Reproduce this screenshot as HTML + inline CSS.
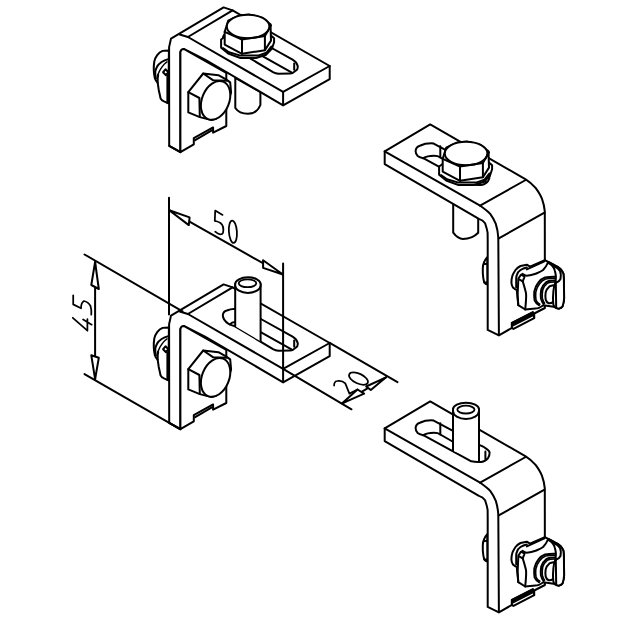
<!DOCTYPE html>
<html><head><meta charset="utf-8"><style>
html,body{margin:0;padding:0;background:#fff;width:638px;height:638px;overflow:hidden}
svg{display:block}
path,ellipse,polyline{fill:none;stroke:#000;stroke-width:2;stroke-linejoin:round;stroke-linecap:round}
.w{fill:#fff}
.t{stroke-width:1.75}
</style></head><body>
<svg width="638" height="638" viewBox="0 0 638 638">
<defs>
<g id="ab">
<!-- left nut behind vertical leg -->
<path class="w" d="M168.9,50.4 C166,50.4 164,50.5 162.6,50.9 C160,52 158.5,53.5 157.2,55.2 C155.5,57.5 154.8,59.5 154.3,61.5 C153.8,64.5 153.7,67.5 153.8,70.3 C153.9,73.5 154.3,76 154.8,78.1 C155.5,80 156.5,81.5 157.7,82.9 L158.7,89.7 L160.6,98.5 C161.5,100 162.7,100.8 164,101.4 L168.4,103.3 Z"/>
<path d="M168.4,59.1 C166,59.8 163.5,60.8 161.6,62 C159.8,63.3 158.2,64.8 157.2,66.4 C156.3,68 155.6,69.6 155.3,71.3 L155.3,77.1"/>
<path style="stroke-width:1.5" d="M167,61.8 C165.2,63 163.8,64.4 162.6,66.1 C161,68.2 159.8,70.2 158.9,72.4 C157.9,74.2 157.2,76.2 156.8,78.3"/>
<path d="M163.1,72.2 L165.5,69.3 L168.4,72.2 L166,75.2 Z"/>
<path d="M157.7,82.9 C157.5,80 157.6,77 158.2,75"/>
<path style="stroke-width:1.6" d="M167.2,75 L167.2,103"/>

<!-- L bracket outline -->
<path class="w" d="M169.2,145.8 L169.1,47.1 L171,38.6 L223.6,7.4 L232.6,10.4 L329.7,66 L329.7,79.2 L283.1,105.3 L205,59.6 L183.8,49 L180.4,52 L180.4,152.1 Z"/>
<path class="w" d="M180.4,152.1 L180.4,52 C180.6,50.5 182,49 183.8,49 L226.3,72.9 L226.3,126 L213.1,132.6 L213.1,127.4 L193.8,138.2 L193.8,144.3 Z"/>
<path d="M169.2,145.8 L180.4,152.1"/>
<path d="M179.7,34.5 L187.9,37 L283.1,91.9 L329.7,66"/>
<path d="M283.1,91.9 L283.1,105.3"/>
<path d="M187.9,37 L232.6,10.4"/>
<path d="M195.2,140.1 L212.2,130.2"/>

<!-- slot in plate (A/B) -->
<path d="M260.9,42 L292.6,59.6 C295,61 297,63 297.7,65.9 C298,68 297,70 295.8,70.6 C294,72.5 292,73.4 290.3,73.4 L278.5,73.8 C276,73.6 274.5,73 273,72.2 L235,49.3 C232,48.5 229.5,47.3 228.3,46.6 C225,44.5 223,42 222.8,38.4 C223,35.5 224.5,34.1 226.8,33.5 C229,32.5 232,31.9 235,31.7 L260.9,42"/>
<path d="M229.9,47.4 C231,46 233,45 235,45 M258,53.7 L291,72.2"/>
<path d="M294.2,63.6 L294.2,69.8"/>

<!-- side hex bolt -->
<path class="w" d="M188.3,92.1 L203.2,73.5 L218.4,75.2 L226,79.4 L230.2,82.4 L231.1,92.5 L228.1,101.9 L222,112 L215.9,118.8 L211.6,120.1 L199.8,117.1 L188.3,112.4 Z"/>
<path d="M188.3,92.1 L199.4,98 L199.8,117.1"/>
<path d="M203.2,73.5 L213.3,80.3 L226.9,80.7"/>
<ellipse class="w" cx="215.6" cy="100.4" rx="13.6" ry="20.2" transform="rotate(22 215.6 100.4)"/>
</g>
<g id="cb">
<!-- bump left of vertical leg -->
<path class="w" d="M487.3,257.1 C485.5,259 484.5,261 484.2,262 C483.2,264 482.8,266 482.8,268.3 L482.8,273.3 C483,277 483.5,280 484.2,282.4 C485,283.5 486,284.3 487.5,284.6 Z"/>
<path d="M484.9,264.1 L487.5,263.8 M484.5,282.4 L487.5,282.4"/>
<!-- C bracket -->
<path class="w" d="M384.7,151.3 L430.2,124.4 L525.7,179.4 C530,182 533,185 535.8,188.2 C538.5,192 540.5,195 542,198.9 C543.5,203 544.4,207 544.8,211.4 L544.9,308 L534.2,313.5 L534.2,318.1 L513.5,328.9 L511.8,328 L498.9,335.3 L487.7,329.9 L487.7,240 C487.7,236 487.6,232.7 487.6,232.7 C487,229 486,226 485.1,223.3 C483.5,221 481,219.5 478.9,218.9 L384.7,164.1 Z"/>
<path d="M384.7,151.3 L480.1,205.7 C484,208.5 487.5,211 490.2,213.9 C492.5,217 494.5,220.5 495.8,223.9 C497.3,228.5 498,233 498.3,237.7 L498.9,335.3"/>
<path d="M480.1,205.7 L525.7,180"/>
<path d="M498.8,238.4 L544.5,212.7"/>
<!-- slot -->
<path d="M433.2,143.4 L479.8,168.1 C483,169.5 485,170.5 486.1,171.6 C488.5,173 489.6,174.5 489.6,175.8 C489.6,178 489,179.5 488.2,180.8 C486.5,183 484,184.5 481.2,185 C478,185.2 474,185 471.3,184.3 L423.3,158.2 C420.5,157.5 418.5,156.8 417.7,156.1 C416,154.5 415.6,152.8 415.6,151.1 C415.6,148.5 417.5,146.5 420.5,145.5 C424,143.7 428.5,143.2 433.2,143.4"/>
<path d="M423.3,158.2 C426,156.5 430,155.8 434,155.8 C437,155.8 439,156.5 440.3,157.5 L476,178"/>
<path d="M440.3,146.2 L440.3,157.5 M485.4,174.4 L485.4,182.2"/>
<!-- C bottom notch -->
<path d="M511.8,328 L511.8,322.8 L532.9,312.1 L534.2,318.1"/>
<path style="fill:#000;stroke-width:1.4" d="M511.8,322.8 L532.9,312.1 L533.3,315.4 L512.3,326.1 Z"/>
<!-- C nut -->
<path class="w" d="M544.8,260.2 L549.3,262.5 L554.9,265.3 C557,266.2 559,267.5 560.6,269.2 C561.5,270.3 562.5,271.8 563.4,273.7 C563.6,275.5 563.8,277 563.9,279.4 L564.1,298.2 C564,301 563.5,303.5 562.6,306.3 C562,307.5 560.5,308.3 559,308.5 C558,308.5 556.5,308.2 555.3,307 L543.3,305.2 C540,307.5 537,308.6 535.5,308.6 L525.2,309.5 L518.3,305.2 L516.8,290.1 C515,289.5 514,288.5 513,287.6 C512,286 511.4,284.5 511.4,282.6 C511.4,279.5 511.8,277.5 512.4,275.7 C513.5,273 514.5,271.5 515.5,270 C517,268 519,266.8 520.5,266 L526.8,264.7 L530,266.6 Z"/>
<path d="M526.8,267.5 C524,268 522,269 520.5,270 C518.5,271.5 517.5,272.5 517.4,273.8 C516.5,275.5 516.2,277 516.2,278.2 L516.2,287.6"/>
<path d="M522.4,273.8 C524,275 525.5,275.7 526.8,275.7 C530,275.5 533,274.8 535.6,273.8 C538.5,272.5 541,271.5 543.1,270 C545,268 547,265 548.2,262"/>
<path d="M526.8,269.4 L544.4,261.3"/>
<path d="M518.3,278.8 L520.9,274.7 L524.6,276.6 L522.7,281.3 Z"/>
<path d="M522.7,281.3 C524,285 525,289 526,293 C526.5,297 526,302 525.2,309.5"/>
<path d="M518.3,280 L517.6,295 L518.3,305.2"/>
<path d="M556,276.8 C553,276.6 549,276.8 545,277.5 C542,278.5 540,280.5 538.3,282.7 C536,285.5 535,288.5 534.3,291.5 C534,294.5 534.2,297.5 534.6,300.4 C535.5,302.5 537,304 539,305.2"/>
<path style="stroke-width:1.6" d="M556,278.4 C553,278.2 549.5,278.2 545.6,279 C543,280 541,281.8 539.6,283.7 C537.5,286.2 536.5,289 535.8,292 C535.5,294.6 535.7,297.5 536,300 C536.8,302 538,303.3 539.8,304.3"/>
<path d="M556,280.5 C554,280.4 552,280.5 550,280.8 C548,281.2 547.5,281.5 546.4,282 C544,284 542.3,286.5 541.3,289.3 C540.8,292 540.6,295 540.9,298.2 C541.5,300.5 542.5,302.5 543.5,304"/>
<path style="stroke-width:1.6" d="M556,282 C554,281.9 552.3,282 550.5,282.2 C548.7,282.6 548,282.9 547.2,283.3 C545,285 543.6,287.3 542.7,290 C542.2,292.5 542.1,295.3 542.3,298.2 C542.8,300.3 543.7,302 544.6,303.2"/>
<path d="M556,284.9 C553,285 551,285.5 549.4,286.4 C547.5,288 546.3,290 545.7,292.3 C545.3,294.5 545.3,297 545.7,299.6 C546.3,301.5 547.3,302.8 548.6,303.3 C550,303.5 552,302.8 553.5,301.8"/>
<path class="w" d="M548.2,263 C550,264 551.5,265 552.7,266.4 C554,268 554.6,269.5 554.9,270.9 C555.5,273 555.8,275 555.9,276.6 L555.6,282.2 C554.5,284.5 553.6,287 553.4,291.3 L553,297.5 C553,302 553.3,304.5 553.7,305.7 C554.5,307.5 556,308.5 558.7,308.8 C560.5,308.3 562,307.5 562.6,306.3 C563.5,303.5 564,301 564.1,298.2 L563.9,279.4 C563.8,277 563.6,275.5 563.4,273.7 C562.5,271.8 561.5,270.3 560.6,269.2 C559,267.5 557,266.2 554.9,265.3 L549.3,262.5 Z"/>
<path d="M555.8,282.2 L556.2,307.5"/>
<path d="M553,265.8 C556,267 558.5,268.5 560,271 C561,273 560.8,277 560.5,279 C559.8,280.5 558.5,281.8 555.8,282.8"/>
</g>
</defs>
<path class="w" d="M235.3,78 L235.3,108 C238,112 243,113.8 248,113.8 C253,113.8 258,111 260.4,105 L260.4,92 Z"/>
<use href="#ab"/>

<!-- top bolt A -->
<path class="w" d="M221.1,39.5 L221.1,47.8 L228.2,53.6 L240.5,58 L256,58 L266,54.7 L272,48.5 L274.1,42.2 L274.1,38.2 L268,33 L230,33 Z"/>
<path d="M223,48 L229,52.2 L240.5,55.6 L258,55.6 L266.5,52.7 L271.5,46.5"/>
<path class="w" d="M224.7,31.9 L228.2,20.7 L239,15.6 L249.6,14.6 L261.9,17.6 L270.5,24.3 L271,40.6 L264.9,50.2 L242,53.8 L224.7,44.6 Z"/>
<ellipse class="w" cx="248.1" cy="26.5" rx="21.3" ry="11.7"/>
<path d="M224.7,31.9 L242,39.5 L264.9,36 L271,25.3"/>
<path d="M242,39.5 L242,53.8 M264.9,36 L264.9,50.2"/>

<use href="#ab" transform="translate(0,277)"/>
<g transform="translate(0,277)">
<path class="w" style="stroke:none" d="M235.2,7 L235.2,49.3 L260.6,64.3 L260.6,7 Z"/>
<path d="M235.2,7.1 L235.2,49.3 M260.6,7.1 L260.6,64.3"/>
<path class="w" d="M235.2,7.1 A12.7,6.8 0 0 1 260.6,7.1 L260.6,8.5 A12.7,7.4 0 0 1 235.2,8.5 Z"/>
<ellipse cx="247.5" cy="6.3" rx="8.8" ry="3.9" style="stroke-width:1.8"/>
</g>
<path class="w" d="M453.2,200 L453.2,232.7 C456,236.5 459,238.9 463,238.9 C469,238.9 475,236 478.2,232.7 L478.2,215 Z"/>
<use href="#cb"/>
<g transform="translate(218,127)">
<!-- top bolt A -->
<path class="w" d="M221.1,39.5 L221.1,47.8 L228.2,53.6 L240.5,58 L256,58 L266,54.7 L272,48.5 L274.1,42.2 L274.1,38.2 L268,33 L230,33 Z"/>
<path d="M223,48 L229,52.2 L240.5,55.6 L258,55.6 L266.5,52.7 L271.5,46.5"/>
<path class="w" d="M224.7,31.9 L228.2,20.7 L239,15.6 L249.6,14.6 L261.9,17.6 L270.5,24.3 L271,40.6 L264.9,50.2 L242,53.8 L224.7,44.6 Z"/>
<ellipse class="w" cx="248.1" cy="26.5" rx="21.3" ry="11.7"/>
<path d="M224.7,31.9 L242,39.5 L264.9,36 L271,25.3"/>
<path d="M242,39.5 L242,53.8 M264.9,36 L264.9,50.2"/>
</g>
<use href="#cb" transform="translate(0,277)"/>
<g transform="translate(0,277)">
<path class="w" style="stroke:none" d="M453,132 L453,173.7 L479,184.3 L479,132 Z"/>
<path d="M453,132.3 L453,173.7 M479,132.3 L479,184.3"/>
<path class="w" d="M453,132.3 A13,6.6 0 0 1 479,132.3 L479,134 A13,7.9 0 0 1 453,134 Z"/>
<ellipse cx="465.9" cy="132.6" rx="8.6" ry="3.9" style="stroke-width:1.8"/>
</g>

<!-- 50 -->
<path d="M169,197.7 L169,314.5 M283.1,263.5 L283.1,368.9"/>
<path d="M169.2,210.2 L282.9,274.5"/>
<path class="w" d="M169.2,210.2 L189.6,217.4 L188.8,225.1 Z"/>
<path class="w" d="M282.9,274.5 L263.1,260.2 L263.1,267.9 Z"/>
<path class="t" d="M222.6,214.9 L215.2,210.6 L214.8,220.8 C217,221.5 219,221.8 220.5,223 C223,225 223.8,229 223,232.9 C222,235 219,235 215.2,231.7"/>
<ellipse class="t" cx="232.9" cy="231.7" rx="4" ry="11.2" transform="rotate(-4 232.9 231.7)"/>
<!-- 45 -->
<path d="M84.5,254.5 L182.5,311.3"/>
<path d="M84.5,374.1 L180.1,429.1"/>
<path d="M95.1,262 L95.1,379.1"/>
<path class="w" d="M95.1,262 L91.3,285 L98.8,289 Z"/>
<path class="w" d="M95.1,379.1 L91.3,355.3 L98.8,357.8 Z"/>
<path class="t" d="M73.2,295.3 L73.2,304.4 L81,308.3 C81,305 82,302 84,301 C86.5,301.5 89,303.5 90.5,306 C91.5,309 91.5,312 91.3,314.7"/>
<path class="t" d="M72.8,317.8 L87.4,330.7 L87.4,319 M83.1,319.5 L91.7,324.7"/>
<!-- 20 -->
<path d="M329.7,342.8 L397.5,382.1"/>
<path d="M283.1,368.9 L351.5,409.3"/>
<path d="M342.2,403.3 L386,377.3"/>
<path class="w" d="M342.2,403.3 L357.5,389.5 L364.1,393.6 Z"/>
<path class="w" d="M386,377.3 L366.2,386.5 L370.8,390 Z"/>
<path class="t" d="M334.1,385.5 C334,383 335.5,381 337.5,380.9 C340,380.5 343,381 345.3,383.4 L349.4,393.6 L357.5,389.5"/>
<ellipse class="t" cx="358.5" cy="378.6" rx="10.2" ry="4.9" transform="rotate(25 358.5 378.6)"/>

</svg>
</body></html>
